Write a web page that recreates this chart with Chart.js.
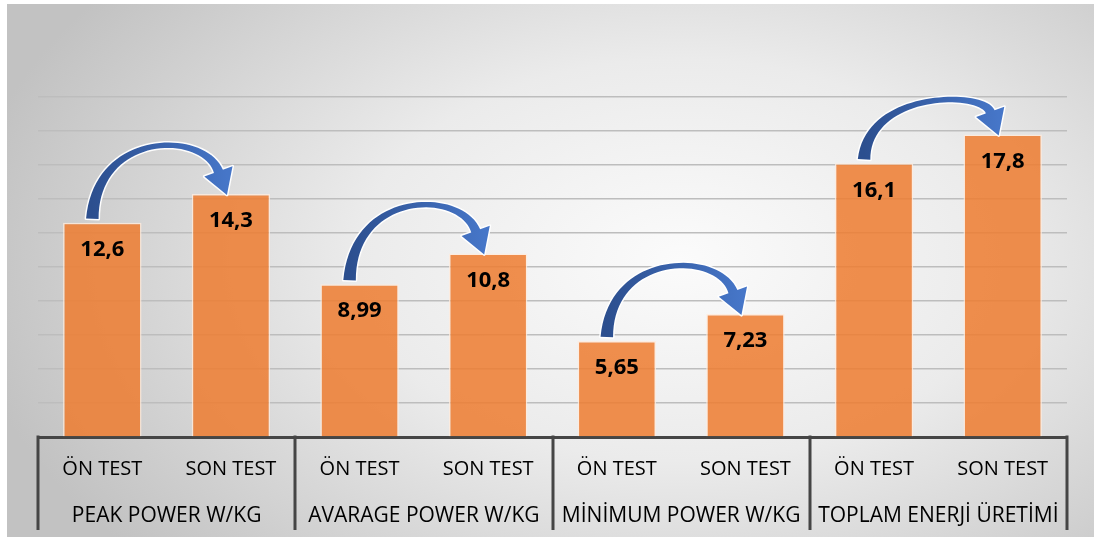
<!DOCTYPE html>
<html>
<head>
<meta charset="utf-8">
<script src="https://cdn.jsdelivr.net/npm/chart.js"></script>
<style>
  html, body { margin: 0; padding: 0; background: #ffffff; }
  #wrap { width: 1094px; height: 537px; }
</style>
</head>
<body>
<div id="wrap"><canvas id="Chart" width="1094" height="537"></canvas></div>
<script>
var testLabels = ['ÖN TEST', 'SON TEST', 'ÖN TEST', 'SON TEST', 'ÖN TEST', 'SON TEST', 'ÖN TEST', 'SON TEST'];
var groupLabels = ['PEAK POWER W/KG', 'AVARAGE POWER W/KG', 'MİNİMUM POWER W/KG', 'TOPLAM ENERJİ ÜRETİMİ'];
var values = [12.6, 14.3, 8.99, 10.8, 5.65, 7.23, 16.1, 17.8];
var yTicks = [0, 2, 4, 6, 8, 10, 12, 14, 16, 18, 20];

// grey radial background behind everything
var backgroundPlugin = {
  id: 'bg',
  beforeDraw: function (chart) {
    var ctx = chart.ctx;
    ctx.save();
    ctx.fillStyle = '#ffffff';
    ctx.fillRect(0, 0, chart.width, chart.height);
    ctx.translate(680, 260);
    ctx.scale(1, 0.62);
    var g = ctx.createRadialGradient(0, 0, 0, 0, 0, 720);
    g.addColorStop(0, '#fbfbfb');
    g.addColorStop(0.45, '#ebebeb');
    g.addColorStop(1, '#c2c2c2');
    ctx.fillStyle = g;
    ctx.fillRect(7 - 680, (4 - 260) / 0.62, 1100, 540 / 0.62);
    ctx.restore();
  }
};

// dividers between the groups under the axis
var dividerPlugin = {
  id: 'dividers',
  afterDraw: function (chart) {
    var x = chart.scales.x;
    var ctx = chart.ctx;
    var step = (x.right - x.left) / groupLabels.length;
    ctx.save();
    ctx.strokeStyle = '#454545';
    ctx.lineWidth = 3;
    for (var i = 0; i <= groupLabels.length; i++) {
      var px = Math.round(x.left + i * step);
      ctx.beginPath();
      ctx.moveTo(px, x.top - 1.5);
      ctx.lineTo(px, 530);
      ctx.stroke();
    }
    ctx.restore();
  }
};

// value labels inside the top of each bar
var valueLabelPlugin = {
  id: 'valueLabels',
  afterDatasetsDraw: function (chart) {
    var ctx = chart.ctx;
    var meta = chart.getDatasetMeta(0);
    ctx.save();
    ctx.font = 'bold 22px "Open Sans"';
    ctx.fillStyle = '#000000';
    ctx.textAlign = 'center';
    ctx.textBaseline = 'middle';
    meta.data.forEach(function (bar, i) {
      ctx.fillText(String(values[i]).replace('.', ','), bar.x, bar.y + 27);
    });
    ctx.restore();
  }
};

function bez(p0, p1, p2, p3, t) {
  var u = 1 - t;
  return {
    x: u * u * u * p0.x + 3 * u * u * t * p1.x + 3 * u * t * t * p2.x + t * t * t * p3.x,
    y: u * u * u * p0.y + 3 * u * u * t * p1.y + 3 * u * t * t * p2.y + t * t * t * p3.y
  };
}

function bezTan(p0, p1, p2, p3, t) {
  var u = 1 - t;
  return {
    x: 3 * u * u * (p1.x - p0.x) + 6 * u * t * (p2.x - p1.x) + 3 * t * t * (p3.x - p2.x),
    y: 3 * u * u * (p1.y - p0.y) + 6 * u * t * (p2.y - p1.y) + 3 * t * t * (p3.y - p2.y)
  };
}

// curved blue arrows from each ÖN TEST bar to its SON TEST bar
var arrowPlugin = {
  id: 'arrows',
  afterDatasetsDraw: function (chart) {
    var ctx = chart.ctx;
    var bars = chart.getDatasetMeta(0).data;
    var top = chart.chartArea.top;
    var d = { x: 0.34, y: 0.94 };
    var headLen = 25, headHalf = 15;
    for (var i = 0; i < bars.length; i += 2) {
      var L = bars[i], R = bars[i + 1];
      var p0 = { x: L.x - 10, y: L.y - 4 };
      var tip = { x: R.x - 4, y: R.y + 1 };
      var p3 = { x: tip.x - d.x * headLen, y: tip.y - d.y * headLen };
      var apex = Math.max(Math.min(L.y, R.y) - 47, top + 5);
      var yc = (8 * apex - p0.y - p3.y) / 6;
      var p1 = { x: p0.x + 4, y: yc };
      var p2 = { x: p3.x - d.x * (p3.y - yc) / d.y, y: yc };

      var sideA = [], sideB = [];
      var n = 40;
      for (var k = 0; k <= n; k++) {
        var t = k / n;
        var p = bez(p0, p1, p2, p3, t);
        var tg = bezTan(p0, p1, p2, p3, t);
        var len = Math.sqrt(tg.x * tg.x + tg.y * tg.y) || 1;
        var nx = -tg.y / len, ny = tg.x / len;
        var w = 12.5 - 25 * t + 22 * t * t;
        sideA.push({ x: p.x + nx * w / 2, y: p.y + ny * w / 2 });
        sideB.push({ x: p.x - nx * w / 2, y: p.y - ny * w / 2 });
      }
      var hx = -d.y, hy = d.x;

      ctx.save();
      ctx.beginPath();
      ctx.moveTo(sideA[0].x, sideA[0].y);
      sideA.forEach(function (q) { ctx.lineTo(q.x, q.y); });
      ctx.lineTo(p3.x + hx * headHalf, p3.y + hy * headHalf);
      ctx.lineTo(tip.x, tip.y);
      ctx.lineTo(p3.x - hx * headHalf, p3.y - hy * headHalf);
      for (var m = sideB.length - 1; m >= 0; m--) ctx.lineTo(sideB[m].x, sideB[m].y);
      ctx.closePath();
      ctx.lineJoin = 'round';
      ctx.strokeStyle = 'rgba(255,255,255,0.95)';
      ctx.lineWidth = 3;
      ctx.stroke();
      var g = ctx.createLinearGradient(p0.x, 0, tip.x, 0);
      g.addColorStop(0, '#2c4f8f');
      g.addColorStop(1, '#4676c8');
      ctx.fillStyle = g;
      ctx.fill();
      ctx.restore();
    }
  }
};

document.addEventListener('DOMContentLoaded', function () {
  var ctx = document.getElementById('Chart').getContext('2d');

  var myChart = new Chart(ctx, {
    type: 'bar',
    data: {
      labels: testLabels,
      datasets: [{
        data: values,
        backgroundColor: 'rgba(237, 125, 49, 0.86)',
        borderColor: 'rgba(255, 235, 220, 0.8)',
        borderWidth: 1.5,
        barPercentage: 0.61,
        categoryPercentage: 1
      }]
    },
    options: {
      responsive: false,
      animation: false,
      layout: {
        padding: { top: 97, left: 38, right: 27, bottom: 8 }
      },
      plugins: {
        legend: { display: false },
        tooltip: { enabled: false }
      },
      scales: {
        y: {
          min: 0,
          max: 20,
          afterBuildTicks: function (scale) {
            scale.ticks = yTicks.map(function (v) { return { value: v }; });
          },
          afterFit: function (scale) { scale.width = 0; },
          ticks: { display: false },
          border: { display: false },
          grid: { color: '#bdbdbd', lineWidth: 1.5, drawTicks: false }
        },
        x: {
          afterFit: function (scale) { scale.height = 52; },
          grid: { display: false },
          border: { display: true, color: '#454545', width: 3 },
          ticks: {
            autoSkip: false,
            maxRotation: 0,
            padding: 12,
            color: '#000000',
            font: { family: 'Open Sans', size: 20 }
          }
        },
        x2: {
          type: 'category',
          position: 'bottom',
          labels: groupLabels,
          offset: true,
          afterFit: function (scale) { scale.height = 40; },
          grid: { display: false },
          border: { display: false },
          ticks: {
            autoSkip: false,
            maxRotation: 0,
            padding: 6,
            color: '#000000',
            font: { family: 'Open Sans', size: 21 }
          }
        }
      }
    },
    plugins: [backgroundPlugin, valueLabelPlugin, arrowPlugin, dividerPlugin]
  });
});
</script>
</body>
</html>
